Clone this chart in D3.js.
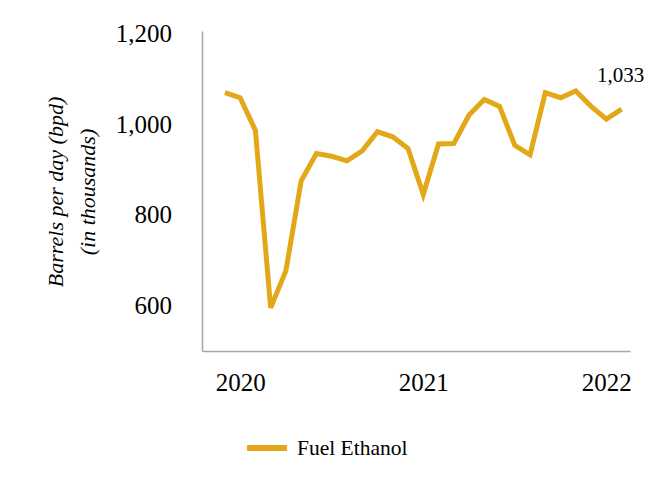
<!DOCTYPE html>
<html>
<head>
<meta charset="utf-8">
<script src="https://cdn.jsdelivr.net/npm/d3@7"></script>
<style>
  html, body { margin: 0; padding: 0; background: #fff; }
  svg { display: block; font-family: "Liberation Serif", "Times New Roman", serif; }
</style>
</head>
<body>
<svg id="chart" width="660" height="500"></svg>
<script>
// Monthly fuel ethanol production, Dec 2019 – Feb 2022 (thousand bpd)
const months = ["2019-12","2020-01","2020-02","2020-03","2020-04","2020-05","2020-06","2020-07","2020-08","2020-09","2020-10","2020-11","2020-12",
                "2021-01","2021-02","2021-03","2021-04","2021-05","2021-06","2021-07","2021-08","2021-09","2021-10","2021-11","2021-12","2022-01","2022-02"];
const values = [1069, 1058, 986, 595, 677, 875, 935, 929, 919, 941, 983, 972, 946,
                845, 956, 957, 1020, 1054, 1039, 953, 932, 1069, 1058, 1073, 1039, 1011, 1033];
const yTicks = [600, 800, 1000, 1200];
const xTickLabels = [{month: "2020-01", label: "2020"}, {month: "2021-01", label: "2021"}, {month: "2022-01", label: "2022"}];
const seriesName = "Fuel Ethanol";
const yTitle = ["Barrels per day (bpd)", "(in thousands)"];

const svg = d3.select("#chart");
const color = "#E2A817";

const x = d3.scaleLinear().domain([-1.5, months.length - 0.45]).range([202, 630]);
const y = d3.scaleLinear().domain([500, 1205]).range([351, 31]);

const data = months.map((m, i) => ({ i, m, v: values[i] }));

// Y axis
const yAxis = d3.axisLeft(y).tickValues(yTicks).tickSize(0).tickPadding(30)
  .tickFormat(d3.format(","));
const gy = svg.append("g").attr("transform", "translate(202,0)").call(yAxis);
gy.select(".domain").attr("stroke", "#A6A6A6").attr("stroke-width", 1.5);
gy.selectAll("text").attr("font-size", 25).attr("fill", "#000")
  .attr("font-family", "'Liberation Serif', serif");

// X axis
const xAxis = d3.axisBottom(x)
  .tickValues(xTickLabels.map(t => months.indexOf(t.month)))
  .tickFormat((d) => xTickLabels.find(t => months.indexOf(t.month) === d).label)
  .tickSize(0).tickPadding(22);
const gx = svg.append("g").attr("transform", "translate(0,351)").call(xAxis);
gx.select(".domain").attr("stroke", "#A6A6A6").attr("stroke-width", 1.5);
gx.selectAll("text").attr("font-size", 25).attr("fill", "#000")
  .attr("font-family", "'Liberation Serif', serif");

// Line
const line = d3.line().x(d => x(d.i)).y(d => y(d.v));
svg.append("path").datum(data)
  .attr("fill", "none").attr("stroke", color).attr("stroke-width", 5)
  .attr("stroke-linejoin", "miter").attr("d", line);

// Last value annotation
const last = data[data.length - 1];
svg.append("text")
  .attr("x", x(last.i) - 1).attr("y", y(last.v) - 27)
  .attr("text-anchor", "middle").attr("font-size", 21).attr("fill", "#000")
  .text(d3.format(",")(last.v));

// Y title
const yt = svg.append("text")
  .attr("transform", "translate(63,192) rotate(-90)")
  .attr("text-anchor", "middle").attr("font-size", 22).attr("font-style", "italic").attr("fill", "#000");
yt.selectAll("tspan").data(yTitle).join("tspan")
  .attr("x", 0).attr("dy", (d, i) => i === 0 ? 0 : 31.5).text(d => d);

// Legend
const lg = svg.append("g");
lg.append("line").attr("x1", 247).attr("x2", 287).attr("y1", 448).attr("y2", 448)
  .attr("stroke", color).attr("stroke-width", 6);
lg.append("text").attr("x", 297).attr("y", 454.5).attr("font-size", 21.5).attr("fill", "#000").text(seriesName);
</script>
</body>
</html>
